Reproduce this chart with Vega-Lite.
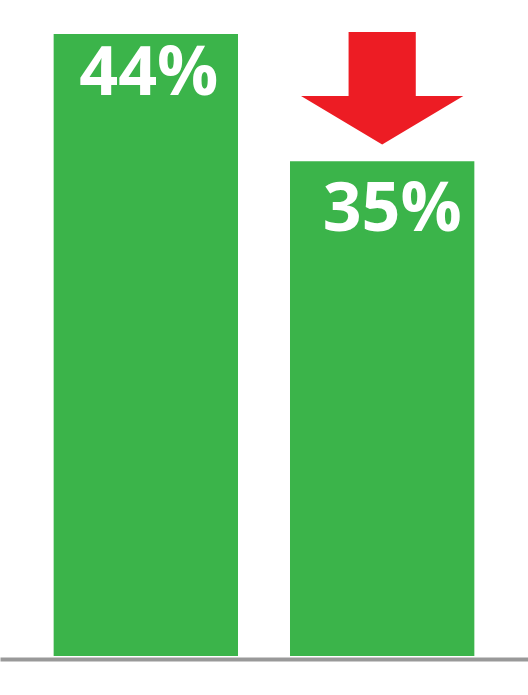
{
  "$schema": "https://vega.github.io/schema/vega-lite/v6.json",
  "description": "Two green bars, 44% falling to 35%, with a red down arrow above the second bar.",
  "width": 528,
  "height": 656,
  "padding": {"top": 0, "left": 0, "right": 0, "bottom": 39},
  "autosize": {"type": "none"},
  "background": "white",
  "config": {"view": {"stroke": null}},
  "data": {
    "values": [
      {"period": "Before", "share": 44, "label": "44%"},
      {"period": "After", "share": 35, "label": "35%"}
    ]
  },
  "encoding": {
    "x": {
      "field": "period",
      "type": "nominal",
      "sort": ["Before", "After"],
      "scale": {"paddingInner": 0.22, "paddingOuter": 0.227},
      "axis": {
        "title": null,
        "labels": false,
        "ticks": false,
        "domainColor": "#999999",
        "domainWidth": 4,
        "offset": 3
      }
    },
    "y": {
      "field": "share",
      "type": "quantitative",
      "scale": {"domain": [0, 46.4], "nice": false, "zero": true},
      "axis": null
    }
  },
  "layer": [
    {
      "mark": {"type": "bar", "color": "#3bb44a"}
    },
    {
      "transform": [{"filter": "datum.period === 'Before'"}],
      "mark": {
        "type": "text",
        "color": "white",
        "font": "Open Sans",
        "fontWeight": "bold",
        "fontSize": 68,
        "align": "center",
        "baseline": "alphabetic",
        "dx": 3,
        "dy": 61
      },
      "encoding": {"text": {"field": "label"}}
    },
    {
      "transform": [{"filter": "datum.period === 'After'"}],
      "mark": {
        "type": "text",
        "color": "white",
        "font": "Open Sans",
        "fontWeight": "bold",
        "fontSize": 68,
        "align": "center",
        "baseline": "alphabetic",
        "dx": 10,
        "dy": 70
      },
      "encoding": {"text": {"field": "label"}}
    },
    {
      "transform": [{"filter": "datum.period === 'After'"}],
      "mark": {
        "type": "point",
        "filled": true,
        "opacity": 1,
        "strokeWidth": 0,
        "color": "#ed1c24",
        "shape": "M-0.414,-0.692L0.414,-0.692L0.414,0.096L1,0.096L0,0.692L-1,0.096L-0.414,0.096Z",
        "size": 26341
      },
      "encoding": {
        "y": {"datum": 40.16}
      }
    }
  ]
}
